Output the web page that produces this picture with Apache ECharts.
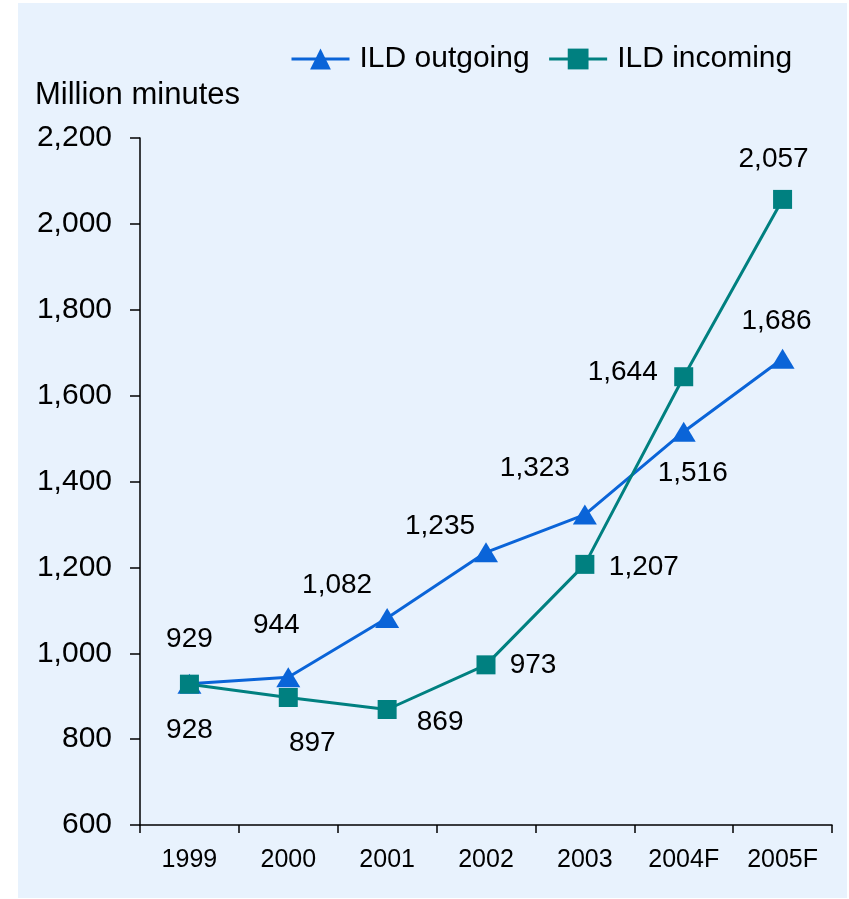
<!DOCTYPE html>
<html><head><meta charset="utf-8">
<script src="https://cdn.jsdelivr.net/npm/echarts@6/dist/echarts.min.js"></script>
<style>html,body{margin:0;padding:0;background:#fff;}#c{width:849px;height:899px;}</style>
</head><body><div id="c"></div>
<script>
var categories = ['1999','2000','2001','2002','2003','2004F','2005F'];
var outgoing = [929, 944, 1082, 1235, 1323, 1516, 1686];
var incoming = [928, 897, 869, 973, 1207, 1644, 2057];
var yTicks = {min: 600, max: 2200, interval: 200};
var outgoingLabelOffsets = [[0,-44],[-12,-52],[-50,-33],[-46,-26],[-50,-46],[9,42],[-6,-37]];
var incomingLabelOffsets = [[0,46],[24,46],[53,13],[47,0],[59,3],[-61,-4],[-9,-40]];

var FONT = '"Liberation Sans", Arial, sans-serif';
function fmt(v){ return String(v).replace(/\B(?=(\d{3})+(?!\d))/g, ','); }
function mk(vals, offs){
  return vals.map(function(v,i){
    return {value: v, label: {show: true, position: 'inside', offset: offs[i],
      formatter: function(p){ return fmt(p.value); },
      color: '#000', fontSize: 28, fontFamily: FONT}};
  });
}
var chart = echarts.init(document.getElementById('c'), null, {renderer:'canvas'});
chart.setOption({
  backgroundColor: '#fff',
  animation: false,
  graphic: [{type:'rect', shape:{x:18,y:3,width:829,height:895}, style:{fill:'#e8f2fd'}, z:-10, silent:true}],
  title: {text: 'Million minutes', left: 30, top: 75,
    textStyle: {fontSize: 31, fontWeight: 'normal', color: '#000', fontFamily: FONT}},
  legend: {left: 285, top: 39, itemWidth: 58, itemHeight: 26, itemGap: 18,
    lineStyle: {width: 3},
    textStyle: {fontSize: 30, color: '#000', fontFamily: FONT, padding:[0,0,0,5]},
    data: ['ILD outgoing','ILD incoming']},
  grid: {left: 140, right: 17, top: 138, bottom: 74, containLabel: false},
  xAxis: {type: 'category', data: categories, boundaryGap: true,
    axisLine: {lineStyle: {color: '#000', width: 1.5}},
    axisTick: {show: true, alignWithLabel: false, length: 8, lineStyle: {color:'#000', width: 1.5}},
    axisLabel: {color: '#000', fontSize: 25, fontFamily: FONT, margin: 23}},
  yAxis: {type: 'value', min: yTicks.min, max: yTicks.max, interval: yTicks.interval,
    axisLine: {show: true, lineStyle: {color: '#000', width: 1.5}},
    axisTick: {show: true, length: 10, lineStyle: {color:'#000', width: 1.5}},
    splitLine: {show: false},
    axisLabel: {color: '#000', fontSize: 30, fontFamily: FONT, margin: 28, formatter: fmt}},
  series: [
    {name: 'ILD outgoing', type: 'line', data: mk(outgoing, outgoingLabelOffsets),
      symbol: 'triangle', symbolSize: [24, 20],
      lineStyle: {color: '#0a64d8', width: 3}, itemStyle: {color: '#0a64d8'}, z: 2},
    {name: 'ILD incoming', type: 'line', data: mk(incoming, incomingLabelOffsets),
      symbol: 'rect', symbolSize: 19,
      lineStyle: {color: '#008080', width: 3}, itemStyle: {color: '#008080'}, z: 3}
  ]
});
</script></body></html>
